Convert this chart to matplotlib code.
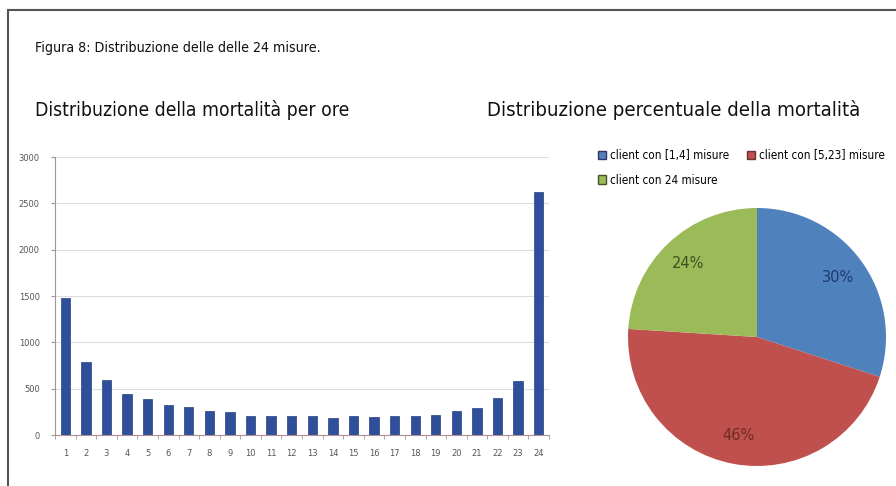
import matplotlib.pyplot as plt
from matplotlib.patches import Rectangle, Patch

hours = list(range(1, 25))
deaths = [1480, 790, 590, 440, 390, 320, 305, 260, 250, 205, 200, 200,
          205, 185, 210, 198, 205, 210, 220, 260, 288, 396, 586, 2620]

pie_labels = ["client con [1,4] misure", "client con [5,23] misure", "client con 24 misure"]
pie_values = [30, 46, 24]
pie_colors = ["#4f81bd", "#c0504d", "#9bbb59"]
pct_colors = ["#1f3a6e", "#6e2a26", "#3d4f22"]

font = ["DejaVu Sans"]

fig = plt.figure(figsize=(8.96, 4.86), dpi=100)

# outer frame
fig.patches.append(Rectangle((8 / 896, -0.1), 1.1, 1 - 10 / 486 + 0.1, transform=fig.transFigure,
                             fill=False, edgecolor="#555555", linewidth=1.5))

tkw = dict(family=font, stretch="condensed", va="center", color="#111111")
fig.text(35 / 896, 1 - 48 / 486, "Figura 8: Distribuzione delle delle 24 misure.", fontsize=10.2, **tkw)
fig.text(35 / 896, 1 - 110 / 486, "Distribuzione della mortalità per ore", fontsize=13.9, **tkw)
fig.text(487 / 896, 1 - 110 / 486, "Distribuzione percentuale della mortalità", fontsize=14.6, **tkw)

# bar chart
ax = fig.add_axes([55 / 896, 1 - 435 / 486, 494 / 896, 278 / 486])
ax.bar(hours, deaths, width=0.45, color="#2f4f9a", edgecolor="#26417f", linewidth=0.5, zorder=2)
ax.set_xlim(0.5, 24.5)
ax.set_ylim(0, 3000)
ax.set_yticks([0, 500, 1000, 1500, 2000, 2500, 3000])
ax.set_xticks(hours)
ax.set_xticks([h + 0.5 for h in range(0, 25)], minor=True)
ax.tick_params(axis="x", which="major", length=0, labelsize=6, colors="#555555", pad=10)
ax.tick_params(axis="x", which="minor", length=3, color="#999999")
ax.tick_params(axis="y", length=3, labelsize=6, colors="#555555", color="#999999", pad=8)
ax.grid(axis="y", color="#dddddd", linewidth=0.8, zorder=0)
for s in ["top", "right"]:
    ax.spines[s].set_visible(False)
ax.spines["left"].set_color("#999999")
ax.spines["bottom"].set_color("#b09090")

# pie chart
pax = fig.add_axes([628 / 896, 1 - 466 / 486, 258 / 896, 258 / 486])
wedges, texts, autotexts = pax.pie(pie_values, colors=pie_colors, startangle=90, counterclock=False,
                                   autopct="%d%%", pctdistance=0.78,
                                   textprops={"fontsize": 10.5, "family": font})
for t, c in zip(autotexts, pct_colors):
    t.set_color(c)
pax.set_xlim(-1, 1)
pax.set_ylim(-1, 1)
pax.set_aspect("equal")

handles = [Patch(facecolor=pie_colors[0], edgecolor="#333366"),
           Patch(facecolor=pie_colors[2], edgecolor="#445522"),
           Patch(facecolor=pie_colors[1], edgecolor="#663333")]
labels = [pie_labels[0], pie_labels[2], pie_labels[1]]
fig.legend(handles, labels, ncol=2, loc="upper left", bbox_to_anchor=(592 / 896, 1 - 143 / 486),
           frameon=False, handlelength=0.7, handleheight=0.7, handletextpad=0.3,
           columnspacing=1.6, labelspacing=1.0, borderpad=0,
           prop={"family": font, "size": 8.4, "stretch": "condensed"})

fig.savefig("out.png", dpi=100)
